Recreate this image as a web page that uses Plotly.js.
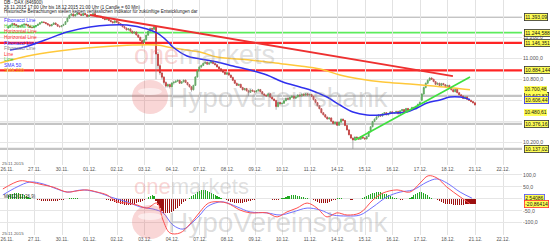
<!DOCTYPE html>
<html><head><meta charset="utf-8">
<script src="https://cdn.plot.ly/plotly-3.0.1.min.js"></script>
<style>html,body{margin:0;padding:0;background:#fff;overflow:hidden}#chart{width:550px;height:246px}</style>
</head><body><div id="chart"></div>
<script>
// ---------- data ----------
const dayLabels = ["26.11.","27.11.","30.11.","01.12.","02.12.","03.12.","04.12.","07.12.","08.12.","09.12.","10.12.","11.12.","14.12.","15.12.","16.12.","17.12.","18.12.","21.12.","22.12."];
const candlesPerDay = 14;

const open = [
11288,11300,11315,11330,11322,11310,11298,11305,11318,11326,11318,11308,11296,11292,
11304,11312,11325,11338,11346,11340,11330,11318,11308,11322,11336,11322,11306,11300,
11312,11322,11348,11382,11410,11422,11402,11416,11432,11420,11408,11426,11414,11398,
11410,11412,11424,11406,11396,11402,11390,11378,11368,11376,11360,11348,11338,11356,
11344,11330,11318,11300,11288,11270,11280,11258,11240,11250,11222,11200,11170,11150,
11176,11220,11258,11284,11276,11300,11040,10930,10860,10820,10770,10735,10750,10728,
10765,10772,10782,10790,10762,10776,10792,10770,10748,10728,10700,10742,10822,10880,
10918,10932,10952,10962,10944,10956,10972,10950,10938,10918,10900,10880,10868,10848,
10862,10840,10818,10790,10762,10742,10752,10722,10700,10712,10690,10676,10698,10688,
10680,10690,10702,10682,10660,10648,10640,10662,10630,10612,10598,10540,10580,10566,
10572,10596,10618,10610,10628,10640,10620,10632,10650,10640,10658,10648,10662,10650,
10656,10636,10606,10578,10548,10520,10482,10462,10440,10422,10432,10400,10378,10392,
10362,10392,10420,10408,10360,10318,10272,10240,10222,10250,10240,10230,10252,10240,
10232,10256,10300,10348,10398,10420,10442,10460,10450,10472,10482,10462,10474,10490,
10480,10482,10494,10472,10500,10512,10490,10522,10502,10512,10532,10520,10542,10562,
10600,10660,10722,10762,10790,10812,10800,10778,10752,10762,10740,10760,10748,10730,
10742,10722,10700,10682,10704,10672,10652,10640,10618,10632,10610,10600,10588,10576];
const high = [
11306,11322,11338,11334,11326,11314,11310,11322,11332,11330,11322,11312,11300,11308,
11316,11330,11344,11352,11350,11344,11334,11322,11326,11342,11340,11326,11310,11316,
11328,11354,11388,11416,11430,11426,11420,11440,11438,11424,11432,11430,11418,11414,
11418,11430,11428,11410,11406,11406,11394,11382,11380,11380,11364,11352,11360,11360,
11350,11336,11322,11304,11292,11284,11286,11262,11254,11256,11226,11204,11176,11182,
11226,11264,11292,11290,11318,11306,11060,10946,10872,10830,10780,10760,10758,10770,
10786,10790,10798,10796,10782,10798,10796,10774,10752,10734,10748,10830,10890,10930,
10940,10960,10970,10968,10962,10982,10978,10956,10944,10924,10906,10886,10872,10868,
10868,10846,10824,10796,10768,10758,10758,10728,10718,10718,10696,10704,10702,10692,
10696,10710,10708,10688,10666,10654,10668,10668,10636,10618,10604,10586,10588,10580,
10602,10626,10624,10634,10648,10644,10638,10658,10656,10664,10664,10668,10666,10662,
10662,10642,10612,10584,10554,10526,10488,10468,10446,10438,10438,10406,10398,10398,
10398,10428,10426,10412,10366,10324,10278,10246,10256,10256,10246,10258,10256,10246,
10262,10306,10354,10404,10428,10448,10466,10466,10478,10488,10486,10480,10496,10494,
10488,10500,10500,10506,10518,10518,10528,10528,10518,10538,10538,10548,10568,10590,
10668,10730,10770,10800,10822,10820,10806,10784,10770,10768,10766,10766,10754,10748,
10748,10728,10706,10710,10710,10678,10658,10646,10638,10638,10616,10606,10594,10580];
const low = [
11282,11294,11310,11318,11305,11292,11294,11301,11314,11314,11303,11290,11286,11288,
11298,11307,11320,11334,11336,11326,11314,11303,11304,11318,11318,11302,11295,11296,
11306,11318,11344,11378,11405,11398,11398,11410,11416,11404,11404,11410,11394,11394,
11404,11408,11402,11392,11392,11386,11374,11364,11364,11356,11344,11334,11334,11340,
11326,11314,11296,11284,11266,11266,11254,11236,11236,11218,11196,11164,11100,11146,
11170,11214,11252,11268,11270,10800,10900,10840,10800,10750,10720,10722,10712,10722,
10750,10766,10776,10756,10756,10770,10764,10742,10722,10682,10694,10736,10814,10872,
10906,10926,10946,10938,10938,10950,10944,10932,10912,10894,10874,10862,10842,10842,
10834,10812,10784,10756,10736,10736,10716,10694,10694,10684,10640,10670,10682,10674,
10674,10684,10676,10654,10642,10632,10636,10624,10606,10590,10510,10534,10560,10560,
10566,10590,10604,10604,10622,10614,10614,10626,10634,10634,10642,10642,10644,10644,
10630,10600,10572,10542,10514,10476,10456,10434,10416,10416,10394,10372,10372,10356,
10356,10386,10402,10354,10312,10266,10234,10137,10216,10234,10224,10224,10234,10226,
10226,10250,10294,10342,10392,10414,10436,10444,10444,10466,10456,10456,10468,10474,
10474,10476,10466,10466,10494,10484,10484,10496,10496,10506,10514,10514,10536,10556,
10590,10652,10714,10754,10782,10794,10772,10746,10746,10734,10734,10742,10724,10724,
10716,10694,10676,10676,10666,10646,10634,10612,10612,10604,10594,10582,10570,10550];
const close = [
11300,11315,11330,11322,11310,11298,11305,11318,11326,11318,11308,11296,11292,11304,
11312,11325,11338,11346,11340,11330,11318,11308,11322,11336,11322,11306,11300,11312,
11322,11348,11382,11410,11422,11402,11416,11432,11420,11408,11426,11414,11398,11410,
11412,11424,11406,11396,11402,11390,11378,11368,11376,11360,11348,11338,11356,11344,
11330,11318,11300,11288,11270,11280,11258,11240,11250,11222,11200,11170,11150,11176,
11220,11258,11284,11276,11300,11040,10930,10860,10820,10770,10735,10750,10728,10765,
10772,10782,10790,10762,10776,10792,10770,10748,10728,10700,10742,10822,10880,10918,
10932,10952,10962,10944,10956,10972,10950,10938,10918,10900,10880,10868,10848,10862,
10840,10818,10790,10762,10742,10752,10722,10700,10712,10690,10676,10698,10688,10680,
10690,10702,10682,10660,10648,10640,10662,10630,10612,10598,10540,10580,10566,10572,
10596,10618,10610,10628,10640,10620,10632,10650,10640,10658,10648,10662,10650,10656,
10636,10606,10578,10548,10520,10482,10462,10440,10422,10432,10400,10378,10392,10362,
10392,10420,10408,10360,10318,10272,10240,10222,10250,10240,10230,10252,10240,10232,
10256,10300,10348,10398,10420,10442,10460,10450,10472,10482,10462,10474,10490,10480,
10482,10494,10472,10500,10512,10490,10522,10502,10512,10532,10520,10542,10562,10580,
10660,10722,10762,10790,10812,10800,10778,10752,10762,10740,10760,10748,10730,10742,
10722,10700,10682,10704,10672,10652,10640,10618,10632,10610,10600,10588,10576,10556];

const sma50X = [0.11,0.65,1.38,2.18,3.01,3.74,4.35,5.08,5.44,5.81,6.02,6.53,7.00,7.62,8.20,8.82,9.43,10.01,10.63,11.10,11.61,12.08,12.55,13.06,13.53,14.01,14.51,14.88,15.24,15.71,16.07,16.44,16.80];
const sma50V = [11079,11107,11174,11250,11298,11317,11317,11279,11241,11165,11107,11022,10993,10965,10927,10888,10841,10774,10727,10689,10631,10555,10489,10460,10460,10479,10489,10527,10574,10603,10631,10631,10606];
const sma200X = [-0.25,0.94,2.18,3.37,4.57,5.44,6.02,7.00,7.62,8.82,10.01,10.63,11.36,12.08,12.81,13.64,14.62,15.46,16.18,16.80];
const sma200V = [10955,11031,11079,11107,11126,11126,11098,11060,11012,10984,10946,10927,10898,10841,10803,10774,10755,10735,10718,10700];

const redTrendX = [3.01,16.18];
const redTrendV = [11412,10831];
const greenTrendX = [12.63,16.80];
const greenTrendV = [10222,10822];

const levelValues = [11393.09,11244.588,11146.351,10884.144,10642.83,10376.16,10137.02];
const levelLabels = ["11.393,09","11.244,588","11.146,351","10.884,144","10.642,83","10.376,16","10.137,02"];
const levelKinds  = ["gray","green","red","red","gray","gray","gray"];
const extraValues = [10700.48,10606.44,10480.61];
const extraLabels = ["10.700,48","10.606,44","10.480,61"];

// grid levels; labels hidden under value boxes are left blank
const priceTicks = [10200,10400,10600,10800,11000,11200,11400];
const priceTickText = ["10.200,0","","","10.800,0","11.000,0","11.200,0",""];

const macdX = [-0.15,0.47,0.83,1.31,1.67,2.18,2.54,2.90,3.27,3.63,3.99,4.35,4.72,5.08,5.44,5.66,5.91,6.28,6.64,7.00,7.26,7.47,7.98,8.45,8.82,9.43,9.80,10.16,10.52,10.89,11.25,11.61,11.97,12.34,12.81,13.28,13.64,14.15,14.62,14.99,15.28,15.60,15.96,16.44,16.80];
const macdV = [41,75,70,58,49,28,33,37,28,16,-13,-18,-26,-39,-18,-89,-143,-143,-106,-55,-22,-13,-18,-47,-59,-59,-76,-55,-39,-18,-39,-76,-59,-68,-59,-5,24,37,28,66,96,87,49,8,-20.86];
const signalX = [-0.15,0.36,0.83,1.31,1.81,2.18,2.76,3.37,3.74,4.35,4.83,5.30,5.66,6.02,6.39,6.75,7.00,7.26,7.55,7.84,8.35,8.82,9.43,9.91,10.38,10.89,11.36,11.83,12.34,12.81,13.28,13.79,14.26,14.73,15.24,15.60,15.96,16.44,16.87];
const signalV = [16,49,70,62,41,28,37,24,8,-13,-34,-43,-59,-110,-127,-97,-68,-34,-18,-13,-34,-55,-59,-68,-55,-39,-47,-68,-72,-68,-34,8,28,37,70,83,66,28,2.54];
const macdHist = [
14,18,22,24,25,24,22,18,14,10,6,
3,1,-1,
-3,-5,-7,-8,-9,-10,-10,-11,-11,-10,-9,-8,-7,-6,-5,-3,-1,
2,4,5,5,3,1,
-1,-2,-2,-3,-2,-1,0,1,1,0,-1,-2,-3,-4,
-6,-8,-10,-13,-16,-19,-21,-23,-25,-26,-26,-25,-23,-21,-18,-15,-12,-9,-6,-2,
6,12,15,10,
-8,-25,-40,-52,-58,-60,-60,-58,-55,-50,-44,-37,-30,-22,-15,-8,-2,
4,10,16,22,28,32,35,36,35,33,30,26,22,17,12,8,4,1,
-3,-6,-9,-12,-15,-17,-19,-19,-18,-16,-14,-12,-10,-8,-6,-4,-2,
-1,0,1,0,-1,-1,-2,
-4,-5,-5,-4,-2,
2,5,8,11,13,15,15,14,13,11,9,7,5,3,1,
-3,-6,-10,-14,-17,-19,-19,-18,-16,-13,-10,-7,-4,
3,5,3,
1,0,-1,
-3,-4,-4,-3,-2,
0,1,
4,8,12,16,20,23,26,28,28,27,25,22,19,15,12,8,5,2,
-2,-4,-4,-3,-1,
1,3,
8,14,20,25,28,28,26,21,15,9,4,
1,-2,
-6,-10,-14,-17,-20,-22,-23,-24,-25,-25,-26,-26,-25,-25,-24,-24,-23,-23,-22,-22];
const macdTicks = [100,50,0,-50,-100];
const macdTickText = ["100,0","50,0","","-50,0","-100,0"];
const macdBoxValues = [2.54086,-20.86414];
const macdBoxLabels = ["2,54086","-20,86414"];

const legendNames = ["Fibonacci Line","Horizontal Line","Horizontal Line","Horizontal Line","Fibonacci Line","Fibonacci Line","Line","Line","SMA 50","SMA 200"];
const headerLines = ["DB - DAX (846900)","26.11.2015 17:00 Uhr bis 18.12.2015 21:00 Uhr (1 Candle = 60 Min)","Historische Betrachtungen stellen keinen verlässlichen Indikator für zukünftige Entwicklungen dar"];

// ---------- build ----------
const H = 246, PW = 522;
const py = px => 1 - px / H;
const FONT = 'Liberation Sans, Arial, sans-serif';
const dayIdx = dayLabels.map((_, i) => i);
const candleX = close.map((_, i) => Math.floor(i / candlesPerDay) + ((i % candlesPerDay) + 0.7) / candlesPerDay);
const xRange = [-0.254, 18.686];

const kindColor = {gray:'#c4c4c4', green:'#5cec5c', red:'#ff2424'};
const kindWidth = {gray:2.2, green:1.6, red:2.2};
const legendColors = ['#3434ff','#33cc33','#ff2a2a','#ff2a2a','#3434ff','#8a8a8a','#ff2a2a','#33cc33','#3434ff','#f0c020'];

const traces = [
  {type:'ohlc', x:candleX, open:open, high:high, low:low, close:close, xaxis:'x', yaxis:'y', tickwidth:0,
   increasing:{line:{color:'#909090', width:0.7}}, decreasing:{line:{color:'#909090', width:0.7}}, hoverinfo:'skip'},
  {type:'candlestick', x:candleX, open:open, high:open.map((o, i) => Math.max(o, close[i])), low:open.map((o, i) => Math.min(o, close[i])), close:close, xaxis:'x', yaxis:'y',
   increasing:{line:{color:'#2fb52f', width:0.7}, fillcolor:'#3ccc3c'},
   decreasing:{line:{color:'#e00000', width:0.7}, fillcolor:'#ee1111'},
   whiskerwidth:0, hoverinfo:'skip'},
  {type:'scatter', mode:'lines', x:sma200X, y:sma200V, line:{color:'#ffc83a', width:1.5, shape:'spline'}, xaxis:'x', yaxis:'y', hoverinfo:'skip'},
  {type:'scatter', mode:'lines', x:sma50X, y:sma50V, line:{color:'#3030ee', width:1.5, shape:'spline'}, xaxis:'x', yaxis:'y', hoverinfo:'skip'},
  {type:'scatter', mode:'lines', x:redTrendX, y:redTrendV, line:{color:'#ee3030', width:1.8}, xaxis:'x', yaxis:'y', hoverinfo:'skip'},
  {type:'scatter', mode:'lines', x:greenTrendX, y:greenTrendV, line:{color:'#3ee03e', width:1.6}, xaxis:'x', yaxis:'y', hoverinfo:'skip'},
  {type:'bar', x:candleX, y:macdHist, width:0.042, xaxis:'x2', yaxis:'y2',
   marker:{color:macdHist.map(v => v >= 0 ? '#22a822' : '#9c1010'), line:{width:0}}, hoverinfo:'skip'},
  {type:'scatter', mode:'lines', x:signalX, y:signalV, line:{color:'#7070ff', width:1, shape:'spline'}, xaxis:'x2', yaxis:'y2', hoverinfo:'skip'},
  {type:'scatter', mode:'lines', x:macdX, y:macdV, line:{color:'#ff5050', width:1, shape:'spline'}, xaxis:'x2', yaxis:'y2', hoverinfo:'skip'}
];

const shapes = [];
levelValues.forEach((v, i) => shapes.push({type:'line', xref:'paper', x0:0, x1:1, yref:'y', y0:v, y1:v,
  line:{color:kindColor[levelKinds[i]], width:kindWidth[levelKinds[i]]}, layer:'below'}));
// watermark logos
[[80,114],[205,239]].forEach(([a,b]) => {
  shapes.push({type:'circle', xref:'paper', yref:'paper', x0:132/PW, x1:168/PW, y0:py(b), y1:py(a),
    fillcolor:'rgba(226,70,70,0.22)', line:{width:0}, layer:'above'});
  shapes.push({type:'circle', xref:'paper', yref:'paper', x0:138/PW, x1:162/PW, y0:py(a+15), y1:py(a+8),
    fillcolor:'rgba(255,255,255,0.55)', line:{width:0}, layer:'above'});
});

const annotations = [];
const box = (txt, yv, yref, border) => ({text:txt, xref:'paper', x:1.003, xanchor:'left', yref:yref, y:yv, yanchor:'middle',
  showarrow:false, font:{family:FONT, size:5, color:'#111'}, bgcolor:'#ffff55', bordercolor:border, borderwidth:border==='rgba(0,0,0,0)'?0:0.8, borderpad:0.4});
levelValues.forEach((v, i) => annotations.push(box(levelLabels[i], v, 'y', '#333')));
annotations.push(box(extraLabels[0], extraValues[0], 'y', 'rgba(0,0,0,0)'));
annotations.push(box(extraLabels[1], extraValues[1], 'y', '#3030ee'));
annotations.push(box(extraLabels[2], extraValues[2], 'y', 'rgba(0,0,0,0)'));
annotations.push(box(macdBoxLabels[0], macdBoxValues[0], 'y2', '#5050ff'));
annotations.push(box(macdBoxLabels[1], macdBoxValues[1], 'y2', '#ff3030'));

headerLines.forEach((t, i) => annotations.push({text:t, xref:'paper', x:2/PW, xanchor:'left', yref:'paper', y:py(2.8 + i*4.3), yanchor:'middle',
  showarrow:false, font:{family:FONT, size:4.5, color:'#222'}}));
legendNames.forEach((t, i) => annotations.push({text:t, xref:'paper', x:2/PW, xanchor:'left', yref:'paper', y:py(20.6 + i*5.6), yanchor:'middle',
  showarrow:false, font:{family:FONT, size:4.9, color:legendColors[i]}}));
[163.5, 233].forEach(p => annotations.push({text:'25.11.2015', xref:'paper', x:0, xanchor:'left', yref:'paper', y:py(p), yanchor:'middle',
  showarrow:false, font:{family:FONT, size:4.4, color:'#555'}}));
annotations.push({text:'MACD(12,26,9)', xref:'paper', x:2/PW, xanchor:'left', yref:'paper', y:py(196), yanchor:'middle',
  showarrow:false, font:{family:FONT, size:4.5, color:'#333'}});
// watermarks
const wmOne = '<span style="color:rgba(236,110,110,0.30)">one</span><span style="color:rgba(150,150,150,0.30)">markets</span>';
annotations.push({text:wmOne, xref:'paper', x:132/PW, xanchor:'left', yref:'paper', y:py(55), yanchor:'middle',
  showarrow:false, font:{family:FONT, size:27}});
annotations.push({text:wmOne, xref:'paper', x:132/PW, xanchor:'left', yref:'paper', y:py(186), yanchor:'middle',
  showarrow:false, font:{family:FONT, size:22}});
[[97],[222]].forEach(([c]) => annotations.push({text:'HypoVereinsbank', xref:'paper', x:166/PW, xanchor:'left', yref:'paper', y:py(c), yanchor:'middle',
  showarrow:false, font:{family:FONT, size:28, color:'rgba(150,150,150,0.32)'}}));

const xBase = {range:xRange, tickvals:dayIdx, ticktext:dayLabels, showgrid:true, gridcolor:'#e2e2e2', gridwidth:1,
  zeroline:false, showline:false, ticks:'', tickfont:{family:FONT, size:4.8, color:'#555'}, fixedrange:true, domain:[0,1]};
const layout = {
  width:550, height:246, margin:{l:0, r:28, t:0, b:0, pad:0},
  paper_bgcolor:'#ffffff', plot_bgcolor:'#ffffff', showlegend:false,
  font:{family:FONT, size:5, color:'#555'},
  xaxis:Object.assign({}, xBase, {anchor:'y', rangeslider:{visible:false}}),
  xaxis2:Object.assign({}, xBase, {anchor:'y2'}),
  yaxis:{domain:[py(165), 1], range:[9984, 11554.8], side:'right', tickvals:priceTicks, ticktext:priceTickText,
    showgrid:true, gridcolor:'#e6e6e6', zeroline:false, ticks:'', tickfont:{family:FONT, size:5.2, color:'#555'}, fixedrange:true},
  yaxis2:{domain:[py(235), py(172)], range:[-151.7, 112], side:'right', tickvals:macdTicks, ticktext:macdTickText,
    showgrid:true, gridcolor:'#e6e6e6', zeroline:false, ticks:'', tickfont:{family:FONT, size:5.2, color:'#555'}, fixedrange:true},
  bargap:0, shapes:shapes, annotations:annotations
};
Plotly.newPlot('chart', traces, layout, {staticPlot:true, displayModeBar:false});
</script>
</body></html>
